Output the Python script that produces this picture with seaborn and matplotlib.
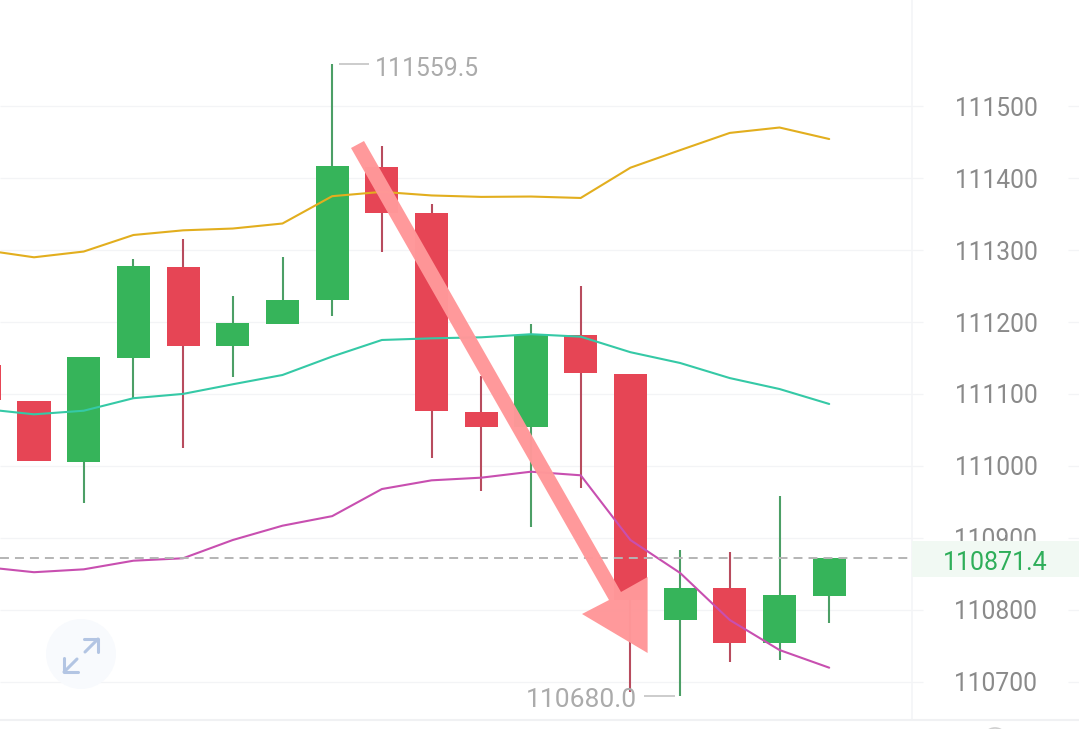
import pandas as pd
import seaborn as sns
import matplotlib.pyplot as plt
from matplotlib.patches import Circle, Polygon
from matplotlib.transforms import Affine2D

# candles, first one is cut off by the left edge
opens = [111140, 111090.5, 111005.7, 111150.4, 111276.9, 111166.2, 111197.2, 111230.6, 111416,
         111351.2, 111074.8, 111053.5, 111181.5, 111127.7, 110786, 110829.6, 110754, 110819.3]
closes = [111091.5, 111006.7, 111151.3, 111277.9, 111167, 111198.2, 111230.6, 111416.6, 111352,
          111076.2, 111054, 111182, 111128.7, 110813, 110830, 110754, 110820.3, 110871.4]
highs = [111140, 111090.5, 111151.3, 111287.2, 111315, 111236.2, 111290, 111559.5, 111444.8,
         111364, 111124.9, 111196.8, 111249.7, 111127.7, 110883, 110879.7, 110958, 110871.4]
lows = [111091.5, 111006.7, 110948.3, 111092.9, 111024.3, 111123.9, 111197.2, 111208.3, 111297,
        111010.4, 110965.4, 110915.3, 110969.5, 110685.8, 110680, 110727.5, 110730, 110781]

ma_upper = [111300, 111290, 111298, 111321, 111327.5, 111330, 111337, 111375, 111381,
            111376, 111374, 111374.5, 111372.5, 111414.6, 111439, 111463, 111470.5, 111454.5]
ma_mid = [111079, 111071.6, 111076.6, 111094, 111100, 111113.4, 111126.3, 111152, 111175,
          111177.3, 111178.7, 111183, 111179.6, 111158, 111143, 111122, 111106.8, 111086]
ma_lower = [110859.3, 110852, 110856, 110868, 110871.4, 110896.8, 110916.7, 110930, 110967.7,
            110979.8, 110983.5, 110991.8, 110986.8, 110896.8, 110851, 110785.5, 110743.8, 110719.2]

price_ticks = [111500, 111400, 111300, 111200, 111100, 111000, 110900, 110800, 110700]
last_price = 110871.4
max_price = 111559.5
min_price = 110680.0

GREEN = "#36B45A"
RED = "#E64555"

sns.set_style("white")
plt.rcParams["font.family"] = ["Roboto", "DejaVu Sans"]

fig = plt.figure(figsize=(10.79, 7.29), dpi=100)
ax = fig.add_axes([0, 0, 1, 1])

# screen pixels, for the things drawn on top of the chart
px = Affine2D().scale(1 / 1079, -1 / 729).translate(0, 1) + fig.transFigure


def xpos(p):
    return (p - 34) / 49.7


def ypos(p):
    return 111500 - (p - 106.3) / 0.719


idx = list(range(-1, 17))
df = pd.DataFrame({"i": idx, "open": opens, "close": closes, "high": highs, "low": lows})
df["color"] = [GREEN if c >= o else RED for o, c in zip(df["open"], df["close"])]
wick_colors = ["#4C9F66" if c == GREEN else "#B84C5E" for c in df["color"]]

ax.hlines(price_ticks, xpos(0), xpos(923), color="#F3F4F6", lw=0.9, zorder=1)
ax.hlines(price_ticks, xpos(1068), xpos(1079), color="#F3F4F6", lw=0.9, zorder=1)

ax.vlines(df["i"], df["low"], df["high"], colors=wick_colors, lw=1.5, zorder=2)
ax.bar(df["i"], (df["close"] - df["open"]).abs(), bottom=df[["open", "close"]].min(axis=1),
       width=0.664, color=df["color"], linewidth=0, zorder=2.5)

lines = pd.DataFrame({
    "i": idx * 3,
    "price": ma_upper + ma_mid + ma_lower,
    "band": ["upper"] * 18 + ["mid"] * 18 + ["lower"] * 18,
})
sns.lineplot(data=lines, x="i", y="price", hue="band", ax=ax, legend=False, errorbar=None,
             palette={"upper": "#E2AE1E", "mid": "#35C9A6", "lower": "#C84FB0"},
             linewidth=1.5, zorder=3)

ax.hlines(last_price, xpos(0), xpos(911), color="#B4B4B4", lw=1.4, linestyles=(0, (4.6, 3.1)), zorder=3.2)

ax.set_xlim(xpos(0), xpos(1079))
ax.set_ylim(ypos(729), ypos(0))
ax.set_xlabel("")
ax.set_ylabel("")
ax.set_xticks([])
ax.yaxis.tick_right()
ax.set_yticks(price_ticks)
ax.set_yticklabels([str(t) for t in price_ticks], ha="center", color="#8A8A8A", fontsize=17.7)
ax.tick_params(axis="y", length=0, pad=-59.8)
sns.despine(ax=ax, left=True, right=True, top=True, bottom=True)

# frame of the price axis
ax.add_line(plt.Line2D([912, 912], [0, 719], transform=px, color="#F4F5F7", lw=1.2, zorder=1))
ax.add_line(plt.Line2D([0, 1079], [720, 720], transform=px, color="#F0F1F3", lw=1.5, zorder=1))

# last price tag, hides the lower part of the 110900 label
ax.add_patch(Polygon([(912, 541), (1079, 541), (1079, 577), (912, 577)], transform=px,
                     facecolor="#F1F9F3", edgecolor="none", zorder=5))
ax.text(xpos(995), last_price - 6, f"{last_price:.1f}", ha="center", va="center",
        color="#2FAE5A", fontsize=18, zorder=6)

# max and min labels
ax.text(xpos(375), max_price - 7, f"{max_price:.1f}", ha="left", va="center", color="#ABABAB", fontsize=17.8)
ax.hlines(max_price, xpos(339), xpos(369), color="#C8C8C8", lw=1.3)
ax.text(xpos(637), min_price - 6, f"{min_price:.1f}", ha="right", va="center", color="#ABABAB", fontsize=19)
ax.hlines(min_price, xpos(644), xpos(675), color="#C8C8C8", lw=1.3)

# expand button
ax.add_patch(Circle((81, 654), 35, transform=px, facecolor="#F8FAFD", edgecolor="none", zorder=4))
for pts in ([(84, 639), (98, 639), (98, 652)], [(85, 652), (98, 639)],
            [(64, 658), (64, 672), (78, 672)], [(77, 659), (64, 672)]):
    xs, ys = zip(*pts)
    ax.add_line(plt.Line2D(xs, ys, transform=px, color="#B3C5E3", lw=2.2, zorder=4.5))

# something peeking in at the bottom edge
ax.add_patch(Circle((995, 740), 12, transform=px, facecolor="none", edgecolor="#CFCFCF", lw=1.2, zorder=4))

# hand drawn arrow
ax.add_patch(Polygon([(351, 148), (364, 141), (621, 592), (647.6, 577), (647.6, 653), (582, 614), (609, 600)],
                     transform=px, facecolor="#FF9799", edgecolor="none", alpha=0.98, zorder=7))

fig.savefig("out.png", dpi=100)
